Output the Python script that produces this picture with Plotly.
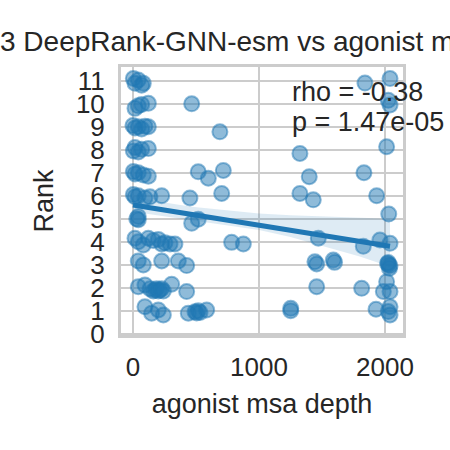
import plotly.graph_objects as go

# msa depth / rank pairs, grouped by rank row
depth = [
    3, 16, 42, 69, 82, 1841, 2040,                                   # rank 11
    16, 42, 69, 122, 466, 2040, 2026,                                # rank 10
    0, 16, 42, 69, 95, 122, 690,                                     # rank 9
    3, 16, 42, 69, 122, 1325, 2013,                                  # rank 8
    3, 16, 42, 82, 122, 518, 598, 717, 1399, 1833,                   # rank 7
    3, 16, 42, 95, 135, 228, 452, 704, 1325, 1431, 1934,             # rank 6
    42, 42, 30, 466, 518, 2030,                                      # rank 5
    16, 42, 82, 122, 161, 201, 228, 254, 294, 333,
    783, 876, 1471, 1828, 1960, 2040,                                # rank 4
    42, 82, 228, 360, 426, 1444, 1458, 1590, 1600,
    2026, 2035, 2040, 2030, 2020,                                    # rank 3
    42, 95, 135, 161, 175, 188, 201, 214, 228, 241, 307, 426,
    1458, 1815, 2013, 1987, 2040,                                    # rank 2
    95, 148, 201, 241, 439, 492, 505, 518, 532, 585,
    1252, 1252, 1929, 2040, 2026, 2040,                              # rank 1
]
rank = [
    11.1, 10.89, 11.03, 10.81, 10.89, 10.9, 11.1,
    9.8, 9.91, 9.97, 10.02, 10.0, 9.95, 10.15,
    9.05, 8.95, 9.0, 8.9, 9.02, 9.0, 8.78,
    7.95, 8.1, 7.9, 8.02, 8.05, 7.84, 8.13,
    7.05, 6.95, 7.0, 6.9, 6.85, 7.04, 6.76, 7.1, 6.83, 7.0,
    6.05, 5.95, 6.0, 5.9, 5.95, 6.0, 5.9, 6.1, 6.1, 5.82, 6.0,
    5.1, 4.95, 5.0, 4.8, 4.98, 5.2,
    4.15, 4.0, 3.86, 4.15, 4.05, 4.1, 3.9, 3.95, 3.9, 3.9,
    3.97, 3.9, 4.15, 3.8, 4.07, 3.93,
    3.16, 2.99, 3.16, 3.16, 2.96, 3.13, 3.03, 3.2, 3.1,
    3.09, 2.84, 2.95, 3.0, 3.05,
    2.04, 2.12, 1.95, 1.85, 1.9, 1.95, 1.85, 1.9, 1.95, 1.85, 2.15, 1.83,
    2.04, 1.97, 2.26, 1.83, 1.83,
    1.17, 0.89, 1.03, 0.81, 0.89, 0.95, 0.9, 1.0, 0.92, 1.03,
    1.1, 1.0, 1.06, 1.17, 0.96, 0.81,
]

# regression line and its confidence band
fit_x = [0, 2040]
fit_y = [5.6, 3.8]
band_x = [0, 250, 466, 750, 1000, 1250, 1524, 1800, 2040]
band_hi = [5.96, 5.7, 5.52, 5.36, 5.23, 5.15, 5.09, 5.04, 5.0]
band_lo = [5.3, 5.1, 4.94, 4.72, 4.51, 4.2, 3.78, 3.35, 2.91]

rho_text = 'rho = -0.38'
p_text = 'p = 1.47e-05'
title = '3 DeepRank-GNN-esm vs agonist msa depth'

blue = '#1f77b4'
fig = go.Figure()

fig.add_trace(go.Scatter(
    x=depth, y=rank, mode='markers',
    marker=dict(size=15, color='rgba(31,119,180,0.5)',
                line=dict(width=2, color='rgba(31,119,180,0.5)')),
))

# CI band
fig.add_trace(go.Scatter(x=band_x, y=band_hi, mode='lines',
                         line=dict(width=0), hoverinfo='skip'))
fig.add_trace(go.Scatter(x=band_x, y=band_lo, mode='lines',
                         line=dict(width=0), fill='tonexty',
                         fillcolor='rgba(31,119,180,0.15)', hoverinfo='skip'))

fig.add_trace(go.Scatter(x=fit_x, y=fit_y, mode='lines',
                         line=dict(width=5, color=blue)))

axis_style = dict(showgrid=True, gridcolor='#cccccc', gridwidth=2,
                  showline=True, linecolor='#cccccc', linewidth=3, mirror=True,
                  zeroline=False, ticks='', tickfont=dict(size=26),
                  automargin=False)

fig.update_layout(
    width=450, height=450,
    margin=dict(l=121, r=47, t=67, b=115),
    plot_bgcolor='white', paper_bgcolor='white',
    showlegend=False,
    font=dict(family='Liberation Sans, Arial, sans-serif', color='#262626', size=26),
    title=dict(text=title, xref='container', x=0, xanchor='left',
               yref='container', y=1 - 41 / 450, yanchor='middle',
               pad=dict(l=0, r=0, t=0, b=0), font=dict(size=28)),
    xaxis=dict(range=[-95, 2143], tickvals=[0, 1000, 2000], ticklabelstandoff=7,
               title=dict(text='agonist msa depth', font=dict(size=27), standoff=13),
               **axis_style),
    yaxis=dict(range=[-0.06, 11.6], tickvals=list(range(12)), ticklabelstandoff=8,
               title=dict(text='Rank', font=dict(size=27), standoff=15),
               **axis_style),
    annotations=[
        dict(text=rho_text, xref='paper', yref='paper', x=0.598, y=0.907,
             xanchor='left', yanchor='middle', showarrow=False, font=dict(size=27)),
        dict(text=p_text, xref='paper', yref='paper', x=0.598, y=0.796,
             xanchor='left', yanchor='middle', showarrow=False, font=dict(size=27)),
    ],
)

# drop the page's default body margin so the 450x450 figure sits at the window corner
fig.write_html("out.html", config={'displayModeBar': False},
               post_script="document.body.style.margin = '0';")
